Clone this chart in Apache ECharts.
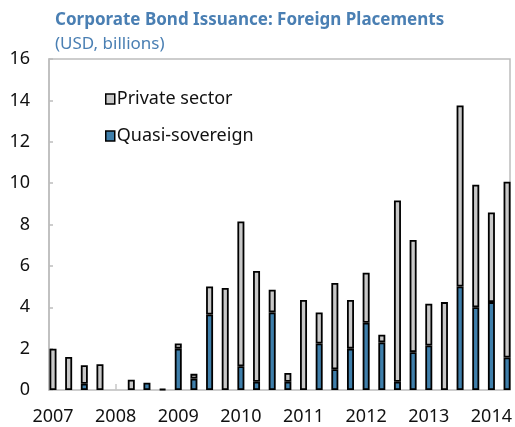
<!DOCTYPE html>
<html>
<head>
<meta charset="utf-8">
<script src="https://cdn.jsdelivr.net/npm/echarts@6/dist/echarts.min.js"></script>
<style>
html,body{margin:0;padding:0;background:#fff;}
#c{width:515px;height:427px;}
</style>
</head>
<body>
<div id="c"></div>
<script>
var categories = [
  '2007 Q1','2007 Q2','2007 Q3','2007 Q4',
  '2008 Q1','2008 Q2','2008 Q3','2008 Q4',
  '2009 Q1','2009 Q2','2009 Q3','2009 Q4',
  '2010 Q1','2010 Q2','2010 Q3','2010 Q4',
  '2011 Q1','2011 Q2','2011 Q3','2011 Q4',
  '2012 Q1','2012 Q2','2012 Q3','2012 Q4',
  '2013 Q1','2013 Q2','2013 Q3','2013 Q4',
  '2014 Q1','2014 Q2'
];
var quasiSovereign = [
  0, 0, 0.3, 0,
  null, 0, 0.35, 0,
  2.0, 0.55, 3.65, 0,
  1.15, 0.4, 3.75, 0.4,
  0, 2.25, 1.0, 2.0,
  3.25, 2.3, 0.4, 1.83,
  2.15, 0, 5.0, 4.0,
  4.25, 1.57
];
var privateSector = [
  2.0, 1.6, 0.9, 1.25,
  null, 0.5, 0, 0.05,
  0.25, 0.23, 1.35, 4.93,
  7.0, 5.35, 1.1, 0.42,
  4.35, 1.5, 4.17, 2.35,
  2.42, 0.37, 8.76, 5.42,
  2.02, 4.25, 8.75, 5.92,
  4.33, 8.5
];
var yTicks = {min: 0, max: 16, interval: 2};

var font = 'Noto Sans';
var chart = echarts.init(document.getElementById('c'), null, {renderer: 'canvas'});
function clean(arr){ return arr.map(function(v){ return (v === 0) ? null : v; }); }
chart.setOption({
  animation: false,
  textStyle: {fontFamily: font},
  title: {
    text: 'Corporate Bond Issuance: Foreign Placements',
    subtext: '(USD, billions)',
    left: 50, top: 7, itemGap: 7,
    textStyle: {fontFamily: font, fontSize: 17, fontWeight: 'bold', color: '#4a7fb3'},
    subtextStyle: {fontFamily: font, fontSize: 17, color: '#4a7fb3'}
  },
  legend: {
    orient: 'vertical', left: 100, top: 85, itemGap: 19,
    icon: 'rect', itemWidth: 9, itemHeight: 10,
    textStyle: {fontFamily: font, fontSize: 18, color: '#111', padding: [0,0,0,-3]},
    itemStyle: {borderColor: '#000', borderWidth: 1.5},
    data: ['Private sector', 'Quasi-sovereign']
  },
  grid: [
    {left: 49, right: 5, top: 59, bottom: 37, show: true, borderColor: '#bdbdbd', borderWidth: 1.5},
    {left: 53, right: 5, top: 59, bottom: 37}
  ],
  xAxis: [
    {gridIndex: 0, type: 'value', min: 0, max: 1, show: false},
    {gridIndex: 1, type: 'category', data: categories, boundaryGap: false,
     axisLine: {show: false},
     axisTick: {show: true, inside: true, length: 6, interval: 3, lineStyle: {color: '#c8c8c8', width: 1.5}},
     axisLabel: {interval: 3, margin: 18, fontFamily: font, fontSize: 18, color: '#111',
       formatter: function(v){ return v.slice(0,4); }}
    }
  ],
  yAxis: [
    {gridIndex: 0, type: 'value', min: yTicks.min, max: yTicks.max, interval: yTicks.interval,
     splitLine: {show: false},
     axisLine: {show: true, lineStyle: {color: '#bdbdbd', width: 1.5}},
     axisTick: {show: true, inside: true, length: 4, lineStyle: {color: '#bdbdbd', width: 1.5}},
     axisLabel: {margin: 19, fontFamily: font, fontSize: 18, color: '#111'}
    },
    {gridIndex: 1, type: 'value', min: yTicks.min, max: yTicks.max, interval: yTicks.interval, show: false}
  ],
  series: [
    {name: 'Quasi-sovereign', type: 'bar', stack: 's', xAxisIndex: 1, yAxisIndex: 1,
     barWidth: 7, data: clean(quasiSovereign),
     itemStyle: {color: '#3f7fab', borderColor: '#000', borderWidth: 1.8}},
    {name: 'Private sector', type: 'bar', stack: 's', xAxisIndex: 1, yAxisIndex: 1,
     barWidth: 7, data: clean(privateSector),
     itemStyle: {color: '#c8c8c8', borderColor: '#000', borderWidth: 1.8}}
  ]
});
</script>
</body>
</html>
